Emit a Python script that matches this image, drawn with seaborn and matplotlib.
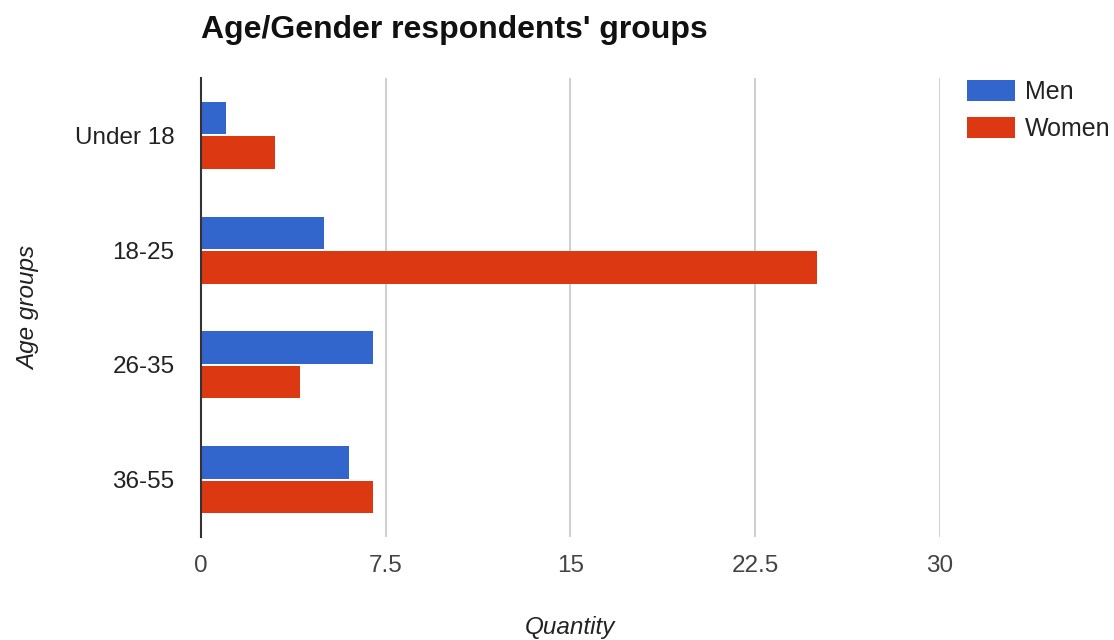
import matplotlib
matplotlib.use("Agg")
import matplotlib.pyplot as plt
import seaborn as sns
import pandas as pd

# Survey respondents by age group and gender
age_groups = ["Under 18", "18-25", "26-35", "36-55"]
men = [1, 5, 7, 6]
women = [3, 25, 4, 7]
x_ticks = [0, 7.5, 15, 22.5, 30]
x_tick_labels = ["0", "7.5", "15", "22.5", "30"]

df = pd.DataFrame({
    "Age group": age_groups * 2,
    "Gender": ["Men"] * len(age_groups) + ["Women"] * len(age_groups),
    "Quantity": men + women,
})

sns.set_theme(style="white")
plt.rcParams["font.family"] = ["Liberation Sans", "DejaVu Sans"]

fig = plt.figure(figsize=(11.14, 6.4), dpi=100)
ax = fig.add_axes([0.1804, 0.161, 0.6634, 0.717])

palette = {"Men": "#3366CC", "Women": "#DC3912"}
sns.barplot(data=df, x="Quantity", y="Age group", hue="Gender",
            order=age_groups, hue_order=["Men", "Women"], palette=palette,
            orient="h", width=0.6, gap=0.06, saturation=1, ax=ax,
            edgecolor="none", legend=True)

ax.set_xlim(0, 30)
ax.set_ylim(len(age_groups) - 0.5, -0.5)
ax.set_xticks(x_ticks)
ax.set_xticklabels(x_tick_labels)
ax.xaxis.grid(True, color="#cccccc", linewidth=1.3)
ax.set_axisbelow(True)
for side in ["top", "right", "bottom"]:
    ax.spines[side].set_visible(False)
ax.spines["left"].set_color("#333333")
ax.spines["left"].set_linewidth(1.5)
ax.spines["left"].set_zorder(5)
ax.tick_params(axis="both", length=0, labelsize=17.5, colors="#222222")
ax.tick_params(axis="y", pad=19)
ax.tick_params(axis="x", pad=13)
for lbl in ax.get_xticklabels():
    lbl.set_color("#444444")

ax.set_xlabel("Quantity", fontsize=17.5, fontstyle="italic", color="#222222", labelpad=28)
ax.set_ylabel("Age groups", fontsize=17.5, fontstyle="italic", color="#222222", labelpad=25)

fig.text(0.1804, 0.953, "Age/Gender respondents' groups", fontsize=23,
         fontweight="bold", color="#111111", ha="left", va="center")

handles, labels = ax.get_legend_handles_labels()
ax.legend(handles, labels, loc="upper left", bbox_to_anchor=(1.0365, 0.9956),
          frameon=False, fontsize=18, handlelength=1.92, handleheight=0.92,
          labelspacing=0.5, handletextpad=0.4, borderaxespad=0, borderpad=0,
          labelcolor="#222222")

fig.savefig("out.png", dpi=100)
